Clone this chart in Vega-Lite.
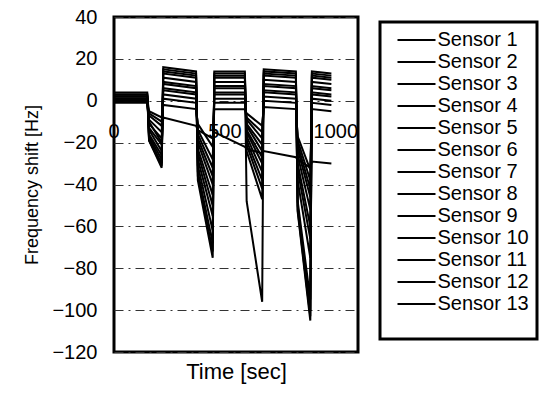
{
  "$schema": "https://vega.github.io/schema/vega-lite/v6.json",
  "width": 244,
  "height": 335,
  "autosize": "none",
  "padding": {"left": 114, "top": 17, "right": 182, "bottom": 42},
  "config": {
    "font": "Liberation Sans",
    "view": {"stroke": "black", "strokeWidth": 3},
    "legend": {"strokeWidth": 3}
  },
  "datasets": {
    "raw": [
      {"s":"Sensor 1","t":0,"v":4},{"s":"Sensor 1","t":150,"v":4},{"s":"Sensor 1","t":158,"v":-19},{"s":"Sensor 1","t":215,"v":-32},{"s":"Sensor 1","t":222,"v":16},{"s":"Sensor 1","t":370,"v":14},{"s":"Sensor 1","t":378,"v":-38},{"s":"Sensor 1","t":445,"v":-75},{"s":"Sensor 1","t":452,"v":14},{"s":"Sensor 1","t":590,"v":14},{"s":"Sensor 1","t":598,"v":-21},{"s":"Sensor 1","t":668,"v":-42},{"s":"Sensor 1","t":675,"v":15},{"s":"Sensor 1","t":820,"v":14},{"s":"Sensor 1","t":828,"v":-52},{"s":"Sensor 1","t":885,"v":-103},{"s":"Sensor 1","t":892,"v":14},{"s":"Sensor 1","t":980,"v":13},
      {"s":"Sensor 2","t":0,"v":3},{"s":"Sensor 2","t":150,"v":3},{"s":"Sensor 2","t":158,"v":-18},{"s":"Sensor 2","t":215,"v":-30},{"s":"Sensor 2","t":222,"v":14},{"s":"Sensor 2","t":370,"v":12},{"s":"Sensor 2","t":378,"v":-34},{"s":"Sensor 2","t":445,"v":-68},{"s":"Sensor 2","t":452,"v":12},{"s":"Sensor 2","t":590,"v":12},{"s":"Sensor 2","t":598,"v":-48},{"s":"Sensor 2","t":668,"v":-96},{"s":"Sensor 2","t":675,"v":13},{"s":"Sensor 2","t":820,"v":12},{"s":"Sensor 2","t":828,"v":-50},{"s":"Sensor 2","t":885,"v":-100},{"s":"Sensor 2","t":892,"v":12},{"s":"Sensor 2","t":980,"v":11},
      {"s":"Sensor 3","t":0,"v":3},{"s":"Sensor 3","t":150,"v":3},{"s":"Sensor 3","t":158,"v":-17},{"s":"Sensor 3","t":215,"v":-28},{"s":"Sensor 3","t":222,"v":13},{"s":"Sensor 3","t":370,"v":11},{"s":"Sensor 3","t":378,"v":-31},{"s":"Sensor 3","t":445,"v":-62},{"s":"Sensor 3","t":452,"v":11},{"s":"Sensor 3","t":590,"v":11},{"s":"Sensor 3","t":598,"v":-19},{"s":"Sensor 3","t":668,"v":-38},{"s":"Sensor 3","t":675,"v":12},{"s":"Sensor 3","t":820,"v":11},{"s":"Sensor 3","t":828,"v":-48},{"s":"Sensor 3","t":885,"v":-95},{"s":"Sensor 3","t":892,"v":11},{"s":"Sensor 3","t":980,"v":10},
      {"s":"Sensor 4","t":0,"v":2},{"s":"Sensor 4","t":150,"v":2},{"s":"Sensor 4","t":158,"v":-16},{"s":"Sensor 4","t":215,"v":-26},{"s":"Sensor 4","t":222,"v":11},{"s":"Sensor 4","t":370,"v":9},{"s":"Sensor 4","t":378,"v":-28},{"s":"Sensor 4","t":445,"v":-55},{"s":"Sensor 4","t":452,"v":9},{"s":"Sensor 4","t":590,"v":9},{"s":"Sensor 4","t":598,"v":-17},{"s":"Sensor 4","t":668,"v":-34},{"s":"Sensor 4","t":675,"v":10},{"s":"Sensor 4","t":820,"v":9},{"s":"Sensor 4","t":828,"v":-38},{"s":"Sensor 4","t":885,"v":-75},{"s":"Sensor 4","t":892,"v":9},{"s":"Sensor 4","t":980,"v":8},
      {"s":"Sensor 5","t":0,"v":2},{"s":"Sensor 5","t":150,"v":2},{"s":"Sensor 5","t":158,"v":-14},{"s":"Sensor 5","t":215,"v":-24},{"s":"Sensor 5","t":222,"v":9},{"s":"Sensor 5","t":370,"v":7},{"s":"Sensor 5","t":378,"v":-25},{"s":"Sensor 5","t":445,"v":-50},{"s":"Sensor 5","t":452,"v":7},{"s":"Sensor 5","t":590,"v":7},{"s":"Sensor 5","t":598,"v":-15},{"s":"Sensor 5","t":668,"v":-30},{"s":"Sensor 5","t":675,"v":8},{"s":"Sensor 5","t":820,"v":7},{"s":"Sensor 5","t":828,"v":-33},{"s":"Sensor 5","t":885,"v":-66},{"s":"Sensor 5","t":892,"v":7},{"s":"Sensor 5","t":980,"v":6},
      {"s":"Sensor 6","t":0,"v":1},{"s":"Sensor 6","t":150,"v":1},{"s":"Sensor 6","t":158,"v":-13},{"s":"Sensor 6","t":215,"v":-21},{"s":"Sensor 6","t":222,"v":8},{"s":"Sensor 6","t":370,"v":6},{"s":"Sensor 6","t":378,"v":-23},{"s":"Sensor 6","t":445,"v":-45},{"s":"Sensor 6","t":452,"v":6},{"s":"Sensor 6","t":590,"v":6},{"s":"Sensor 6","t":598,"v":-14},{"s":"Sensor 6","t":668,"v":-27},{"s":"Sensor 6","t":675,"v":7},{"s":"Sensor 6","t":820,"v":6},{"s":"Sensor 6","t":828,"v":-30},{"s":"Sensor 6","t":885,"v":-60},{"s":"Sensor 6","t":892,"v":6},{"s":"Sensor 6","t":980,"v":5},
      {"s":"Sensor 7","t":0,"v":1},{"s":"Sensor 7","t":150,"v":1},{"s":"Sensor 7","t":158,"v":-11},{"s":"Sensor 7","t":215,"v":-18},{"s":"Sensor 7","t":222,"v":6},{"s":"Sensor 7","t":370,"v":4},{"s":"Sensor 7","t":378,"v":-20},{"s":"Sensor 7","t":445,"v":-40},{"s":"Sensor 7","t":452,"v":4},{"s":"Sensor 7","t":590,"v":4},{"s":"Sensor 7","t":598,"v":-12},{"s":"Sensor 7","t":668,"v":-24},{"s":"Sensor 7","t":675,"v":5},{"s":"Sensor 7","t":820,"v":4},{"s":"Sensor 7","t":828,"v":-26},{"s":"Sensor 7","t":885,"v":-52},{"s":"Sensor 7","t":892,"v":4},{"s":"Sensor 7","t":980,"v":3},
      {"s":"Sensor 8","t":0,"v":0},{"s":"Sensor 8","t":150,"v":0},{"s":"Sensor 8","t":158,"v":-9},{"s":"Sensor 8","t":215,"v":-15},{"s":"Sensor 8","t":222,"v":5},{"s":"Sensor 8","t":370,"v":3},{"s":"Sensor 8","t":378,"v":-18},{"s":"Sensor 8","t":445,"v":-36},{"s":"Sensor 8","t":452,"v":3},{"s":"Sensor 8","t":590,"v":3},{"s":"Sensor 8","t":598,"v":-11},{"s":"Sensor 8","t":668,"v":-21},{"s":"Sensor 8","t":675,"v":4},{"s":"Sensor 8","t":820,"v":3},{"s":"Sensor 8","t":828,"v":-23},{"s":"Sensor 8","t":885,"v":-46},{"s":"Sensor 8","t":892,"v":3},{"s":"Sensor 8","t":980,"v":2},
      {"s":"Sensor 9","t":0,"v":0},{"s":"Sensor 9","t":150,"v":0},{"s":"Sensor 9","t":158,"v":-7},{"s":"Sensor 9","t":215,"v":-12},{"s":"Sensor 9","t":222,"v":3},{"s":"Sensor 9","t":370,"v":1},{"s":"Sensor 9","t":378,"v":-16},{"s":"Sensor 9","t":445,"v":-32},{"s":"Sensor 9","t":452,"v":1},{"s":"Sensor 9","t":590,"v":1},{"s":"Sensor 9","t":598,"v":-9},{"s":"Sensor 9","t":668,"v":-18},{"s":"Sensor 9","t":675,"v":2},{"s":"Sensor 9","t":820,"v":1},{"s":"Sensor 9","t":828,"v":-21},{"s":"Sensor 9","t":885,"v":-42},{"s":"Sensor 9","t":892,"v":1},{"s":"Sensor 9","t":980,"v":0},
      {"s":"Sensor 10","t":0,"v":-1},{"s":"Sensor 10","t":150,"v":-1},{"s":"Sensor 10","t":158,"v":-6},{"s":"Sensor 10","t":215,"v":-10},{"s":"Sensor 10","t":222,"v":1},{"s":"Sensor 10","t":370,"v":-1},{"s":"Sensor 10","t":378,"v":-14},{"s":"Sensor 10","t":445,"v":-28},{"s":"Sensor 10","t":452,"v":-1},{"s":"Sensor 10","t":590,"v":-1},{"s":"Sensor 10","t":598,"v":-8},{"s":"Sensor 10","t":668,"v":-15},{"s":"Sensor 10","t":675,"v":0},{"s":"Sensor 10","t":820,"v":-1},{"s":"Sensor 10","t":828,"v":-19},{"s":"Sensor 10","t":885,"v":-38},{"s":"Sensor 10","t":892,"v":-1},{"s":"Sensor 10","t":980,"v":-2},
      {"s":"Sensor 11","t":0,"v":1},{"s":"Sensor 11","t":150,"v":1},{"s":"Sensor 11","t":158,"v":-5},{"s":"Sensor 11","t":215,"v":-8},{"s":"Sensor 11","t":222,"v":-2},{"s":"Sensor 11","t":370,"v":-4},{"s":"Sensor 11","t":378,"v":-11},{"s":"Sensor 11","t":445,"v":-22},{"s":"Sensor 11","t":452,"v":-4},{"s":"Sensor 11","t":590,"v":-4},{"s":"Sensor 11","t":598,"v":-6},{"s":"Sensor 11","t":668,"v":-12},{"s":"Sensor 11","t":675,"v":-3},{"s":"Sensor 11","t":820,"v":-4},{"s":"Sensor 11","t":828,"v":-17},{"s":"Sensor 11","t":885,"v":-33},{"s":"Sensor 11","t":892,"v":-4},{"s":"Sensor 11","t":980,"v":-5},
      {"s":"Sensor 12","t":0,"v":2},{"s":"Sensor 12","t":150,"v":2},{"s":"Sensor 12","t":158,"v":-19},{"s":"Sensor 12","t":215,"v":-31},{"s":"Sensor 12","t":222,"v":15},{"s":"Sensor 12","t":370,"v":13},{"s":"Sensor 12","t":378,"v":-36},{"s":"Sensor 12","t":445,"v":-72},{"s":"Sensor 12","t":452,"v":13},{"s":"Sensor 12","t":590,"v":13},{"s":"Sensor 12","t":598,"v":-24},{"s":"Sensor 12","t":668,"v":-47},{"s":"Sensor 12","t":675,"v":14},{"s":"Sensor 12","t":820,"v":13},{"s":"Sensor 12","t":828,"v":-53},{"s":"Sensor 12","t":885,"v":-105},{"s":"Sensor 12","t":892,"v":13},{"s":"Sensor 12","t":980,"v":12},
      {"s":"Sensor 13","t":0,"v":0},{"s":"Sensor 13","t":150,"v":0},{"s":"Sensor 13","t":158,"v":-10},{"s":"Sensor 13","t":215,"v":-20},{"s":"Sensor 13","t":222,"v":-8},{"s":"Sensor 13","t":370,"v":-12},{"s":"Sensor 13","t":378,"v":-14},{"s":"Sensor 13","t":445,"v":-18},{"s":"Sensor 13","t":452,"v":-15},{"s":"Sensor 13","t":590,"v":-22},{"s":"Sensor 13","t":598,"v":-23},{"s":"Sensor 13","t":668,"v":-25},{"s":"Sensor 13","t":675,"v":-24},{"s":"Sensor 13","t":820,"v":-27},{"s":"Sensor 13","t":828,"v":-28},{"s":"Sensor 13","t":885,"v":-32},{"s":"Sensor 13","t":892,"v":-29},{"s":"Sensor 13","t":980,"v":-30}
    ],
    "xlabels": [
      {"t": 0, "v": -15, "lab": "0"},
      {"t": 500, "v": -15, "lab": "500"},
      {"t": 1000, "v": -15, "lab": "1000"}
    ]
  },
  "layer": [
    {
      "data": {"name": "raw"},
      "mark": {"type": "line", "strokeWidth": 2},
      "encoding": {
        "x": {
          "field": "t", "type": "quantitative",
          "scale": {"domain": [0, 1100], "nice": false},
          "axis": {"title": "Time [sec]", "labels": false, "ticks": false, "domain": false, "grid": false,
                   "titleFontSize": 22, "titleFontWeight": "normal", "titleColor": "black", "titlePadding": 9}
        },
        "y": {
          "field": "v", "type": "quantitative",
          "scale": {"domain": [-120, 40], "nice": false},
          "axis": {"title": "Frequency shift [Hz]", "values": [-120, -100, -80, -60, -40, -20, 0, 20, 40],
                   "ticks": false, "domain": false, "labelFontSize": 20, "labelColor": "black", "labelPadding": 17,
                   "grid": true, "gridColor": "#333", "gridDash": [9, 5, 2, 5], "gridWidth": 1,
                   "titleFontSize": 18, "titleFontWeight": "normal", "titleColor": "black", "titlePadding": 10}
        },
        "color": {
          "field": "s", "type": "nominal",
          "scale": {
            "domain": ["Sensor 1","Sensor 2","Sensor 3","Sensor 4","Sensor 5","Sensor 6","Sensor 7","Sensor 8","Sensor 9","Sensor 10","Sensor 11","Sensor 12","Sensor 13"],
            "range": ["black","black","black","black","black","black","black","black","black","black","black","black","black"]
          },
          "legend": {
            "title": "\u00a0", "titleOrient": "bottom", "titleFontSize": 12, "titlePadding": 6,
            "orient": "none", "legendX": 266, "legendY": 5,
            "strokeColor": "black", "padding": 8, "rowPadding": 2,
            "symbolType": "M-19,0H19", "symbolSize": 4, "symbolStrokeWidth": 2, "symbolStrokeColor": "black",
            "symbolFillColor": "transparent", "symbolOffset": 18.5,
            "labelFontSize": 20, "labelColor": "black", "labelOffset": 11, "labelLimit": 300
          }
        }
      }
    },
    {
      "data": {"name": "xlabels"},
      "mark": {"type": "text", "fontSize": 20, "color": "black"},
      "encoding": {
        "x": {"field": "t", "type": "quantitative"},
        "y": {"field": "v", "type": "quantitative"},
        "text": {"field": "lab"}
      }
    }
  ]
}
